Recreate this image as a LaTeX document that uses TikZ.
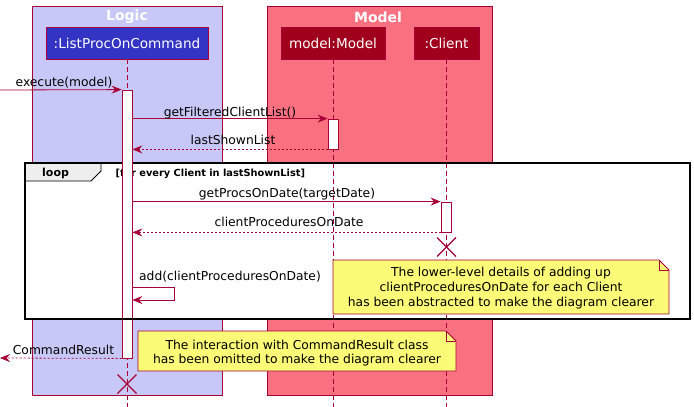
\documentclass[tikz,border=0pt]{standalone}
\usepackage{fontspec}
\setmainfont{DejaVu Sans}
\usetikzlibrary{arrows.meta}
\definecolor{pcrim}{HTML}{A80036}
\definecolor{logicbg}{HTML}{C8C8F8}
\definecolor{modelbg}{HTML}{F97181}
\definecolor{logichead}{HTML}{3333C4}
\definecolor{modelhead}{HTML}{A0001C}
\definecolor{notebg}{HTML}{FBFB77}
\definecolor{tabbg}{HTML}{EEEEEE}
\tikzset{
  grp/.style={draw=pcrim, line width=0.8pt},
  grptitle/.style={text=white, font=\bfseries\fontsize{14}{16}\selectfont, inner sep=0pt},
  head/.style={draw=pcrim, text=white, font=\fontsize{13.6}{16}\selectfont, minimum height=32pt, inner sep=0pt, line width=0.8pt},
  life/.style={draw=pcrim, dash pattern=on 5pt off 3pt, line width=0.8pt},
  act/.style={draw=pcrim, fill=white, minimum width=10pt, inner sep=0pt, line width=0.8pt},
  msg/.style={draw=pcrim, line width=0.8pt, -{Stealth[length=10pt,width=8pt,inset=3.5pt]}},
  ret/.style={msg, dash pattern=on 2pt off 2pt},
  lbl/.style={font=\fontsize{12.3}{14}\selectfont, inner sep=0pt},
  xmark/.style={draw=pcrim, line width=1.4pt},
  notebox/.style={draw=pcrim, fill=notebg, line width=0.8pt},
  notetext/.style={font=\fontsize{12.3}{14.7}\selectfont, align=center, inner sep=0pt},
}
\begin{document}
\begin{tikzpicture}[x=1pt,y=-1pt]
\useasboundingbox (0,0) rectangle (694,407);
% groups
\draw[grp, fill=logicbg] (32,6) rectangle (222,395);
\draw[grp, fill=modelbg] (267,6) rectangle (492,395);
\node[grptitle] (tlogic) at (127,17) {Logic};
\node[grptitle] (tmodel) at (378,17) {Model};
% loop background
\fill[white] (25,163) rectangle (690,319);
% heads
\node[head, fill=logichead, minimum width=162pt] (lp) at (127,43) {:ListProcOnCommand};
\node[head, fill=modelhead, minimum width=104pt] (mm) at (333,43) {model:Model};
\node[head, fill=modelhead, minimum width=65pt] (cl) at (446.5,43) {:Client};
% lifelines
\coordinate (lpend) at (127,407);
\coordinate (mmend) at (333,407);
\coordinate (clend) at (446.5,407);
\draw[life] (lp.south) -- (lpend);
\draw[life] (mm.south) -- (mmend);
\draw[life] (cl.south) -- (clend);
% loop frame
\draw[black, line width=1.6pt] (25,163) rectangle (690,319);
\draw[black, line width=0.8pt, fill=tabbg] (25,163) -- (101,163) -- (101,171) -- (91,181) -- (25,181) -- cycle;
\draw[black, line width=1.6pt] (25,163) -- (690,163);
\node[font=\bfseries\fontsize{11}{13}\selectfont, inner sep=0pt, anchor=base west] (looplbl) at (42,176.5) {loop};
\node[font=\bfseries\fontsize{9.8}{12}\selectfont, inner sep=0pt, anchor=base west] (guard) at (115.5,176) {[for every Client in lastShownList]};
% activations
\node[act, minimum height=268pt] (a1) at (127,224) {};
\node[act, minimum height=30pt] (a2) at (333,134) {};
\node[act, minimum height=30pt] (a3) at (446,217) {};
% messages
\coordinate (ext) at (0,90);
\draw[msg] (ext) -- (a1.north west);
\node[lbl, anchor=base] (l1) at (64,86) {execute(model)};
\draw[msg] (a2.north west -| a1.east) -- (a2.north west);
\node[lbl, anchor=base] (l2) at (230,116) {getFilteredClientList()};
\draw[ret] (a2.south west) -- (a2.south west -| a1.east);
\node[lbl, anchor=base] (l3) at (233,144.5) {lastShownList};
\draw[msg] (a3.north west -| a1.east) -- (a3.north west);
\node[lbl, anchor=base] (l4) at (287,197.5) {getProcsOnDate(targetDate)};
\draw[ret] (a3.south west) -- (a3.south west -| a1.east);
\node[lbl, anchor=base] (l5) at (289,226.5) {clientProceduresOnDate};
% destroy client
\coordinate (xc) at (446.5,247);
\draw[xmark] ([shift={(-9.5,-9.5)}]xc) -- ([shift={(9.5,9.5)}]xc);
\draw[xmark] ([shift={(-9.5,9.5)}]xc) -- ([shift={(9.5,-9.5)}]xc);
% self message
\coordinate (s1) at (174,287);
\coordinate (s2) at (174,300);
\draw[msg] (a1.east |- s1) -- (s1) -- (s2) -- (a1.east |- s2);
\node[lbl, anchor=base west] (l6) at (139,280.5) {add(clientProceduresOnDate)};
% note 1
\draw[notebox] (333,260) -- (659,260) -- (669,270) -- (669,314) -- (333,314) -- cycle;
\draw[pcrim, line width=0.8pt] (659,260) -- (659,270) -- (669,270);
\node[notetext] (n1) at (501,288) {The lower-level details of adding up\\clientProceduresOnDate for each Client\\has been abstracted to make the diagram clearer};
% loop frame border again on top
\draw[black, line width=1.6pt] (25,319) -- (690,319) (690,163) -- (690,319) (25,163) -- (25,319);
% return
\coordinate (retend) at (0,358);
\draw[ret] (a1.south west) -- (retend);
\node[lbl, anchor=base] (l7) at (63.5,354) {CommandResult};
% note 2
\draw[notebox] (138,331) -- (446,331) -- (456,341) -- (456,371) -- (138,371) -- cycle;
\draw[pcrim, line width=0.8pt] (446,331) -- (446,341) -- (456,341);
\node[notetext] (n2) at (297,353) {The interaction with CommandResult class\\has been omitted to make the diagram clearer};
% destroy logic
\coordinate (xl) at (127,384);
\draw[xmark] ([shift={(-9.5,-9.5)}]xl) -- ([shift={(9.5,9.5)}]xl);
\draw[xmark] ([shift={(-9.5,9.5)}]xl) -- ([shift={(9.5,-9.5)}]xl);
\end{tikzpicture}
\end{document}
